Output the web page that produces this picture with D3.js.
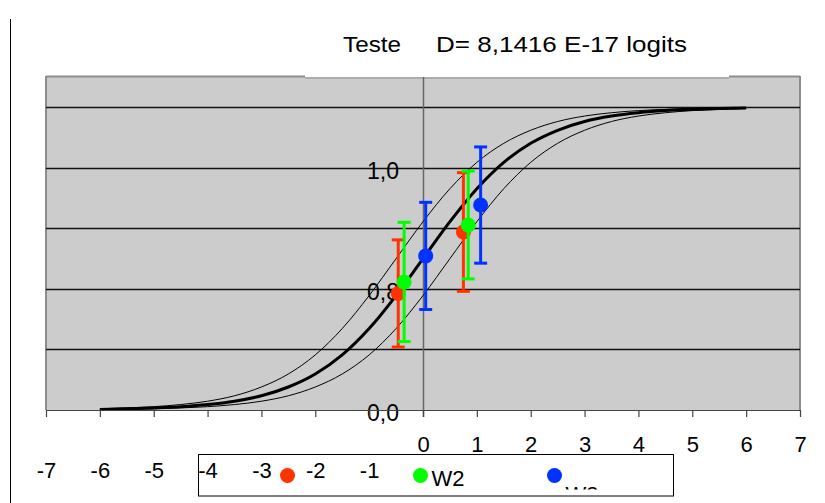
<!DOCTYPE html>
<html>
<head>
<meta charset="utf-8">
<script src="https://cdn.jsdelivr.net/npm/d3@7"></script>
<style>
  body { margin: 0; background: #fff; }
  svg { display: block; font-family: "Liberation Sans", Arial, sans-serif; }
</style>
</head>
<body>
<div id="app"></div>
<script>
// x positions of the three curves (logits)
const curveX = [-6, -5.5, -5, -4.5, -4, -3.5, -3, -2.5, -2, -1.5, -1, -0.5, 0,
  0.5, 1, 1.5, 2, 2.5, 3, 3.5, 4, 4.5, 5, 5.5, 6];
// central curve (thick)
const curveMid = [0.002, 0.004, 0.007, 0.011, 0.018, 0.029, 0.047, 0.076, 0.119, 0.182,
  0.269, 0.378, 0.5, 0.622, 0.731, 0.818, 0.881, 0.924, 0.953, 0.971, 0.982, 0.989,
  0.993, 0.996, 0.998];
// upper band (thin, left)
const curveUpper = [0.004, 0.007, 0.011, 0.018, 0.029, 0.047, 0.076, 0.119, 0.182, 0.269,
  0.378, 0.5, 0.622, 0.731, 0.818, 0.881, 0.924, 0.953, 0.971, 0.982, 0.989, 0.993,
  0.996, 0.998, 0.999];
// lower band (thin, right)
const curveLower = [0.001, 0.002, 0.004, 0.007, 0.011, 0.018, 0.029, 0.047, 0.076, 0.119,
  0.182, 0.269, 0.378, 0.5, 0.622, 0.731, 0.818, 0.881, 0.924, 0.953, 0.971, 0.982,
  0.989, 0.993, 0.996];

// points with error bars
const seriesNames = ["W1", "W2", "W3"];
const seriesColors = ["#ff3300", "#00ff00", "#0033ff"];
const pointX = [[-0.46, 0.75], [-0.35, 0.84], [0.05, 1.07]];
const pointY = [[0.385, 0.588], [0.423, 0.611], [0.509, 0.677]];
const pointErr = [[0.177, 0.196], [0.197, 0.178], [0.177, 0.192]];

// axes
const xTicks = [-7, -6, -5, -4, -3, -2, -1, 0, 1, 2, 3, 4, 5, 6, 7];
const gridValues = [0.2, 0.4, 0.6, 0.8, 1.0];
const yTickValues = [0, 0.4, 0.8];
const yTickLabels = ["0,0", "0,8", "1,0"];
const titleLeft = "Teste";
const titleRight = "D= 8,1416 E-17 logits";

const w = 825;
const h = 503;
const plot = { left: 46, right: 800, top: 77, bottom: 410 };

const svg = d3.select("#app").append("svg").attr("width", w).attr("height", h);

const x = d3.scaleLinear().domain([-7, 7]).range([plot.left, plot.right]);
const y = d3.scaleLinear().domain([0, 1.1]).range([plot.bottom, plot.top]);

// chart area left border
svg.append("line")
  .attr("x1", 10.5).attr("x2", 10.5).attr("y1", 19).attr("y2", h)
  .attr("stroke", "#000").attr("stroke-width", 1);

// plot background
svg.append("rect")
  .attr("x", plot.left).attr("y", plot.top)
  .attr("width", plot.right - plot.left).attr("height", plot.bottom - plot.top)
  .attr("fill", "#cccccc");

// plot border (top is partly hidden by the title box)
const border = svg.append("g").attr("stroke", "#8c8c8c").attr("fill", "none");
border.append("line").attr("x1", plot.left).attr("x2", plot.left)
  .attr("y1", plot.top - 1).attr("y2", plot.bottom).attr("stroke-width", 2);
border.append("line").attr("x1", plot.right).attr("x2", plot.right)
  .attr("y1", plot.top - 1).attr("y2", plot.bottom).attr("stroke-width", 2);
border.append("line").attr("x1", plot.left).attr("x2", 305)
  .attr("y1", plot.top - 0.5).attr("y2", plot.top - 0.5).attr("stroke-width", 2);
border.append("line").attr("x1", 729).attr("x2", plot.right)
  .attr("y1", plot.top - 0.5).attr("y2", plot.top - 0.5).attr("stroke-width", 2);
border.append("line").attr("x1", 305).attr("x2", 729)
  .attr("y1", plot.top + 1).attr("y2", plot.top + 1).attr("stroke-width", 1);

// gridlines
svg.append("g")
  .selectAll("line")
  .data(gridValues)
  .join("line")
  .attr("x1", plot.left).attr("x2", plot.right)
  .attr("y1", (d) => Math.round(y(d)) + 0.5).attr("y2", (d) => Math.round(y(d)) + 0.5)
  .attr("stroke", "#111").attr("stroke-width", 1.3);

// vertical axis line at 0
svg.append("line")
  .attr("x1", x(0) + 0.5).attr("x2", x(0) + 0.5)
  .attr("y1", plot.top).attr("y2", plot.bottom + 7)
  .attr("stroke", "#666").attr("stroke-width", 1.5);

// x axis
const xAxis = svg.append("g")
  .attr("transform", `translate(0,${plot.bottom})`)
  .call(d3.axisBottom(x).tickValues(xTicks).tickSize(7).tickSizeOuter(0).tickFormat(d3.format("d")));
xAxis.select(".domain").attr("stroke", "#444").attr("stroke-width", 1.2);
xAxis.selectAll(".tick line").attr("stroke", "#444").attr("stroke-width", 1.2);
xAxis.selectAll(".tick text")
  .attr("font-size", 22)
  .attr("font-family", "Liberation Sans, Arial, sans-serif")
  .attr("fill", "#000")
  .attr("dy", 0)
  .attr("y", (d) => (d < 0 ? 68 : 41.5))
  .text((d) => (d < 0 ? "-" + Math.abs(d) : d));

// curves
const line = d3.line().x((d) => x(d[0])).y((d) => y(d[1])).curve(d3.curveMonotoneX);
const curves = [
  { values: curveUpper, width: 1 },
  { values: curveLower, width: 1 },
  { values: curveMid, width: 3 }
];
svg.append("g")
  .selectAll("path")
  .data(curves)
  .join("path")
  .attr("d", (c) => line(curveX.map((v, i) => [v, c.values[i]])))
  .attr("fill", "none")
  .attr("stroke", "#000")
  .attr("stroke-width", (c) => c.width);

// y labels (placed as in the original)
const yAxis = svg.append("g")
  .attr("transform", "translate(399,0)")
  .call(d3.axisLeft(y).tickValues(yTickValues).tickSize(0)
    .tickFormat((d, i) => yTickLabels[i]));
yAxis.select(".domain").remove();
yAxis.selectAll(".tick text")
  .attr("x", 0)
  .attr("dy", "0.46em")
  .attr("font-size", 23)
  .attr("font-family", "Liberation Sans, Arial, sans-serif")
  .attr("fill", "#000");

// points with error bars
seriesNames.forEach((name, s) => {
  const g = svg.append("g").attr("stroke", seriesColors[s]).attr("fill", seriesColors[s]);
  pointX[s].forEach((px, i) => {
    const cx = x(px);
    const top = y(pointY[s][i] + pointErr[s][i]);
    const bot = y(pointY[s][i] - pointErr[s][i]);
    g.append("line").attr("x1", cx).attr("x2", cx).attr("y1", top).attr("y2", bot)
      .attr("stroke-width", 3);
    g.append("line").attr("x1", cx - 6.5).attr("x2", cx + 6.5).attr("y1", top).attr("y2", top)
      .attr("stroke-width", 3);
    g.append("line").attr("x1", cx - 6.5).attr("x2", cx + 6.5).attr("y1", bot).attr("y2", bot)
      .attr("stroke-width", 3);
  });
  g.selectAll("circle")
    .data(pointX[s])
    .join("circle")
    .attr("cx", (d) => x(d))
    .attr("cy", (d, i) => y(pointY[s][i]))
    .attr("r", 7.5)
    .attr("stroke", "none");
});

// title
const titleBox = svg.append("g").attr("font-size", 22.5);
titleBox.append("text").attr("x", 343).attr("y", 52)
  .attr("textLength", 58).attr("lengthAdjust", "spacingAndGlyphs").text(titleLeft);
titleBox.append("text").attr("x", 436).attr("y", 52)
  .attr("textLength", 251).attr("lengthAdjust", "spacingAndGlyphs").text(titleRight);

// legend
svg.append("rect")
  .attr("x", 198.5).attr("y", 454.5).attr("width", 475).attr("height", 41.5)
  .attr("fill", "#fff").attr("stroke", "#000").attr("stroke-width", 1);

svg.append("defs").append("clipPath").attr("id", "legendClip")
  .append("rect").attr("x", 199).attr("y", 455).attr("width", 474).attr("height", 34.5);

// the red entry's label is not visible in the original legend
const legendX = [287.5, 420.5, 554.5];
const legendTextY = [null, 486, 502];
const legend = svg.append("g").attr("clip-path", "url(#legendClip)");
seriesNames.forEach((name, s) => {
  legend.append("circle").attr("cx", legendX[s]).attr("cy", 475.5).attr("r", 7.5)
    .attr("fill", seriesColors[s]);
  if (legendTextY[s] !== null) {
    legend.append("text").attr("x", legendX[s] + 11).attr("y", legendTextY[s])
      .attr("font-size", 22).text(name);
  }
});

// keep tick labels above the legend box
svg.node().appendChild(xAxis.node());
</script>
</body>
</html>
